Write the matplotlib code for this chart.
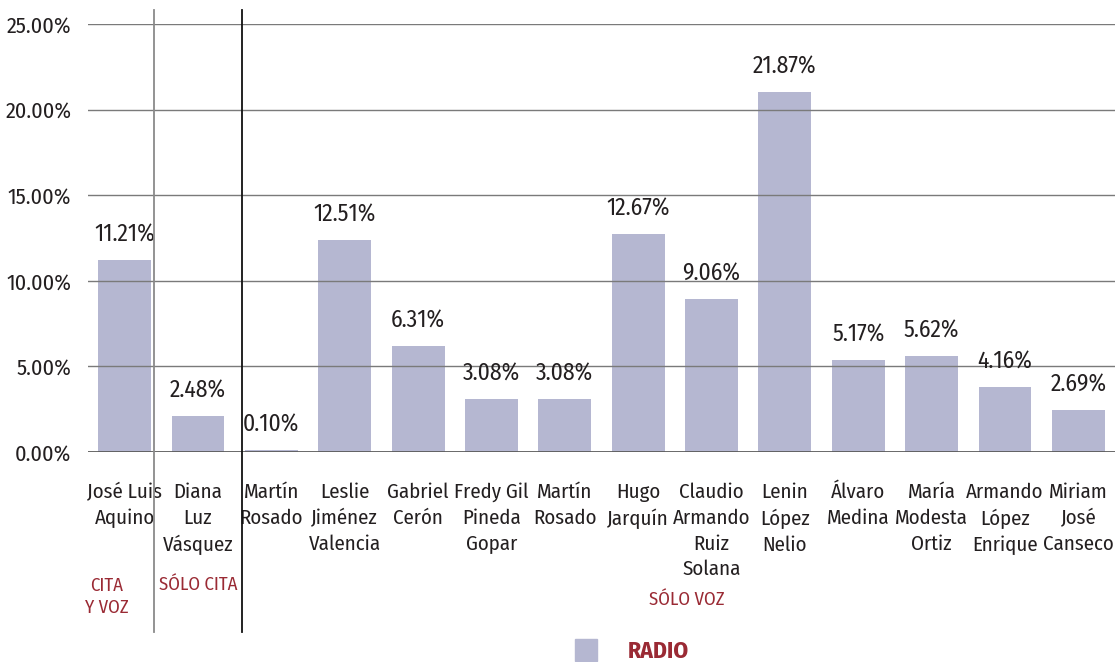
import matplotlib
matplotlib.use("Agg")
import matplotlib.pyplot as plt
from matplotlib.patches import Rectangle

plt.rcParams['font.family'] = ['Fira Sans Condensed', 'DejaVu Sans']
plt.rcParams['font.stretch'] = 'condensed'

# data
names = ['José Luis\nAquino', 'Diana\nLuz\nVásquez', 'Martín\nRosado', 'Leslie\nJiménez\nValencia',
         'Gabriel\nCerón', 'Fredy Gil\nPineda\nGopar', 'Martín\nRosado', 'Hugo\nJarquín',
         'Claudio\nArmando\nRuiz\nSolana', 'Lenin\nLópez\nNelio', 'Álvaro\nMedina',
         'María\nModesta\nOrtiz', 'Armando\nLópez\nEnrique', 'Miriam\nJosé\nCanseco']
bar_heights = [11.21, 2.10, 0.10, 12.38, 6.19, 3.10, 3.10, 12.73, 8.94, 21.03, 5.37, 5.61, 3.80, 2.45]
value_labels = ['11.21%', '2.48%', '0.10%', '12.51%', '6.31%', '3.08%', '3.08%', '12.67%',
                '9.06%', '21.87%', '5.17%', '5.62%', '4.16%', '2.69%']
yticks = [0, 5, 10, 15, 20, 25]

bar_color = '#b5b7d1'
red = '#9a2a34'
text_color = '#231f20'

fig = plt.figure(figsize=(11.15, 6.62), dpi=100)
ax = fig.add_axes([88 / 1115, 210 / 662, 1 - 88 / 1115, 428 / 662])

x = list(range(len(names)))
ax.bar(x, bar_heights, width=0.72, color=bar_color, zorder=1)

for xi, h, lab in zip(x, bar_heights, value_labels):
    ax.annotate(lab, (xi, h), xytext=(0, 10), textcoords='offset points',
                ha='center', va='bottom', fontsize=17, color=text_color)

ax.set_xlim(-0.5, len(names) - 0.5)
ax.set_ylim(0, 25)
ax.set_yticks(yticks)
ax.set_yticklabels(['%.2f%%' % t for t in yticks], fontsize=16, color=text_color)
ax.tick_params(axis='y', length=0, pad=12)
ax.tick_params(axis='x', length=0, pad=22)
ax.set_xticks(x)
ax.set_xticklabels(names, fontsize=15, color=text_color, linespacing=1.4, va='top')
for s in ax.spines.values():
    s.set_visible(False)
ax.grid(axis='y', color='#7a7a7a', linewidth=1, zorder=2)
ax.set_axisbelow(False)
ax.axhline(0, color='#555555', linewidth=1.2, zorder=3)

# section separators, running past the plot area
for xs, col in [(0.4, '#8a8a8a'), (1.6, '#111111')]:
    ax.plot([xs, xs], [1.033, -0.421], transform=ax.get_xaxis_transform(),
            color=col, linewidth=1.3, clip_on=False, zorder=3)

fig.text(107 / 1115, 1 - 597 / 662, 'CITA\nY VOZ', ha='center', va='center',
         fontsize=13.5, color=red, linespacing=1.3)
fig.text(198 / 1115, 1 - 585 / 662, 'SÓLO CITA', ha='center', va='center', fontsize=13.5, color=red)
fig.text(687 / 1115, 1 - 600 / 662, 'SÓLO VOZ', ha='center', va='center', fontsize=13.5, color=red)

# legend
fig.patches.append(Rectangle((575 / 1115, 1 - 661 / 662), 22 / 1115, 22 / 662,
                             transform=fig.transFigure, color=bar_color))
fig.text(628 / 1115, 1 - 651 / 662, 'RADIO', ha='left', va='center', fontsize=17,
         fontweight='bold', color=red)

fig.savefig('out.png', dpi=100)
